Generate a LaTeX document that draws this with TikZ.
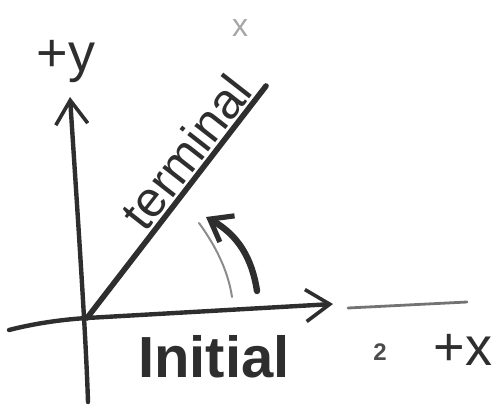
\documentclass[tikz,border=0pt]{standalone}
\usepackage{fontspec}
\setmainfont{Liberation Sans}
\usetikzlibrary{arrows.meta}
\definecolor{ink}{HTML}{2E2E2E}
\tikzset{
  inkline/.style={draw=ink, line width=2.2pt, line cap=round, line join=round},
  chev/.style={-{Straight Barb[length=12pt,width=16pt,line width=1.8pt]}},
  faint/.style={draw=black!45, line width=1pt, line cap=round},
  hand/.style={text=ink, inner sep=0pt},
}
\begin{document}
\begin{tikzpicture}[x=0.5pt,y=-0.5pt]
\useasboundingbox (0,0) rectangle (502,405);
% key points
\coordinate (O) at (87,318);
\coordinate (ybot) at (88,402);
\coordinate (ytop) at (70,97);
\coordinate (xleft) at (9,330);
\coordinate (xright) at (333,304);
\coordinate (tend) at (266,86);
\coordinate (arcS) at (257,291);
\coordinate (arcE) at (206,217);
\coordinate (fS) at (199,223);
\coordinate (fE) at (232,297);
\coordinate (gS) at (348,308);
\coordinate (gE) at (467,302);
% axes
\draw[inkline, chev] (ybot) .. controls (86,340) and (80,250) .. (ytop);
\draw[inkline] (xleft) .. controls (40,322) and (70,319) .. (O);
\draw[inkline, chev] (O) -- (xright);
% terminal side
\draw[inkline, line width=2.8pt] (O) -- (tend);
% rotation arrow
\draw[inkline, line width=3.2pt, -{Straight Barb[length=10pt,width=15pt,line width=2.6pt]}] (arcS) .. controls (252,258) and (238,235) .. (arcE);
% faint companion arc
\draw[faint] (fS) .. controls (215,245) and (228,270) .. (fE);
% faint line beyond x axis
\draw[faint, line width=1.4pt, draw=black!55] (gS) -- (gE);
% labels
\node[hand, font=\fontsize{27}{27}\selectfont] (ylab) at (66,62) {+y};
\node[hand, font=\fontsize{25}{25}\selectfont, rotate=52] (tlab) at (186,152) {terminal};
\node[hand, font=\bfseries\fontsize{29}{29}\selectfont] (ilab) at (214,357) {Initial};
\node[hand, font=\fontsize{27}{27}\selectfont] (xlab) at (463,350) {+x};
\node[text=black!70, inner sep=0pt, font=\bfseries\fontsize{12}{12}\selectfont] (scr) at (380,352) {2};
\node[text=black!35, inner sep=0pt, font=\fontsize{16}{16}\selectfont] (top) at (240,28) {x};
\end{tikzpicture}
\end{document}
